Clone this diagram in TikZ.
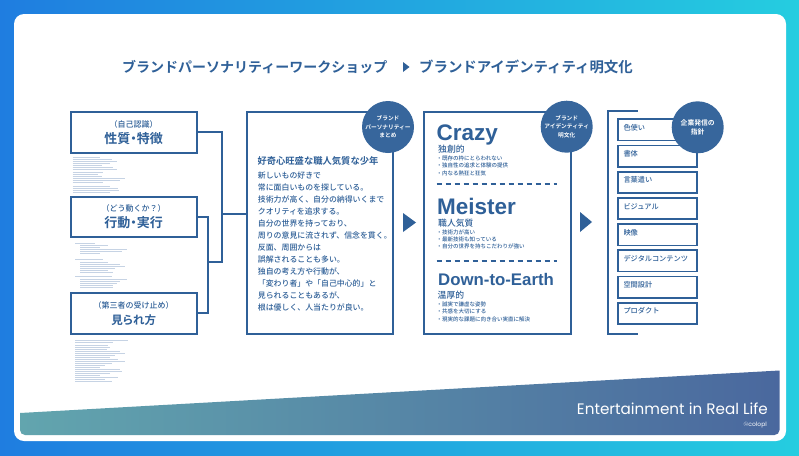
\documentclass[tikz,border=0pt]{standalone}
\usepackage{fontspec}
\setmainfont{Noto Sans CJK JP}[BoldFont={Noto Sans CJK JP Medium}]
\newfontfamily\tightfont{Noto Sans CJK JP}[RawFeature=+palt,BoldFont={Noto Sans CJK JP Bold}]
\newfontfamily\heavyfont{Noto Sans CJK JP Bold}
\newfontfamily\latinfont{Liberation Sans}
\newfontfamily\footerfont{Poppins}
\usetikzlibrary{chains}
\definecolor{brandblue}{HTML}{2F6098}
\definecolor{greekblue}{HTML}{C6D3E4}
\definecolor{skyleft}{HTML}{1F7DE0}
\definecolor{skyright}{HTML}{25CDE0}
\definecolor{bandleft}{HTML}{62A5AE}
\definecolor{bandright}{HTML}{4A689E}

\begin{document}
\begin{tikzpicture}[x=1pt,y=-1pt]
\useasboundingbox (0,0) rectangle (799,455);

\tikzstyle{framebox}=[draw=brandblue,line width=1.9pt,fill=white,anchor=north west,inner sep=0pt,outer sep=0pt]
\tikzstyle{factorbox}=[framebox,minimum width=126pt,minimum height=40.6pt,text=brandblue,align=center]
\tikzstyle{mediabox}=[draw=brandblue,line width=1.7pt,fill=white,minimum width=79.6pt,minimum height=21.3pt,
text width=68pt,align=left,inner ysep=0pt,inner xsep=5.8pt,outer sep=0pt,text height=11pt,text depth=10pt,text=brandblue,
font=\fontsize{7.2}{10}\selectfont\bfseries]
\tikzstyle{badge}=[circle,fill=brandblue!96!white,minimum size=52pt,inner sep=0pt,text=white,align=center,
font=\heavyfont\fontsize{5.7}{8.5}\selectfont]
\tikzstyle{link}=[draw=brandblue,line width=1.7pt]
\tikzstyle{greek}=[draw=greekblue,line width=.8pt]
\tikzstyle{heading}=[text=brandblue,anchor=base west,inner sep=0pt,font=\heavyfont\fontsize{14}{14}\selectfont]
\tikzstyle{bigword}=[text=brandblue,anchor=base west,inner sep=0pt]
\tikzstyle{subword}=[text=brandblue,anchor=west,inner sep=0pt,font=\fontsize{8.8}{12}\selectfont\bfseries]
\tikzstyle{points}=[text=brandblue,anchor=north west,inner sep=0pt,align=left,font=\fontsize{5.5}{7.4}\selectfont\bfseries]

%% Background and white sheet
\shade[left color=skyleft,right color=skyright] (0,0) rectangle (799,455);
\fill[white,rounded corners=10pt] (14,14) rectangle (786,441);
\shade[left color=bandleft,right color=bandright]
  (20,413) -- (779.5,370.5) [rounded corners=5pt] -- (779.5,435) -- (20,435) [sharp corners] -- cycle;

%% Title
\node [heading] (titleleft) at (122,72) {ブランドパーソナリティーワークショップ};
\node [heading,font=\heavyfont\fontsize{14.4}{14}\selectfont] (titleright) at (419,72) {ブランドアイデンティティ明文化};
\fill[brandblue] (403,62) -- (409.5,67) -- (403,72) -- cycle;

%% Factor boxes on the left
\node [factorbox] (selfbox) at (70.7,112) {{\fontsize{8}{10}\selectfont\bfseries （自己認識）}\\[4pt]{\tightfont\fontsize{13}{15}\selectfont\bfseries 性質・特徴}};
\node [factorbox] (actbox) at (70.7,196.7) {{\fontsize{8}{10}\selectfont\bfseries （どう動くか？）}\\[4pt]{\tightfont\fontsize{13}{15}\selectfont\bfseries 行動・実行}};
\node [factorbox] (viewbox) at (70.7,293) {{\fontsize{8}{10}\selectfont\bfseries （第三者の受け止め）}\\[4pt]{\tightfont\fontsize{11.5}{15}\selectfont\bfseries 見られ方}};

%% Illegible notes below each factor box
\foreach \rowy/\rowend in {157.3/100,159.3/111.7,161.3/117.3,163.3/110,165.3/101.7,167.3/112.7,169.3/117.3,
  172.7/103.3,174.7/98.3,176.7/101.7,178.7/125,180.7/120,182.7/103.3,
  186.7/110,188.7/118.3,190.7/119.3,192.7/110}
  \draw[greek] (72.7,\rowy) -- (\rowend,\rowy);
\foreach \rowy/\rowend in {243/95,259.7/103,276.7/111.7}
  \draw[greek] (75,\rowy) -- (\rowend,\rowy);
\foreach \rowy/\rowend in {245.3/108.3,247.3/100,249.3/126.7,251.3/121.7,253.3/100,
  262/108,264/120,266/125,268/115,270/108,272/113,
  279.3/126.7,281.3/120,283.3/116.7,285.3/113,287.3/113}
  \draw[greek] (80,\rowy) -- (\rowend,\rowy);
\foreach \rowy/\rowend in {340/128,342.7/113,345.7/108,347.7/110,349.7/107,351.7/120,353.7/125,355.7/115,
  357.7/110,359.7/118,361.7/125,363.7/112,365.7/105,367.7/100,369.7/120,371.7/122,373.7/110,375.7/100,
  377.7/118,379.7/105,381.7/112}
  \draw[greek] (75,\rowy) -- (\rowend,\rowy);

%% Summary frame
\node [framebox,minimum width=146.5pt,minimum height=222.3pt] (summarybox) at (246.7,111.7) {};
\node [badge] (summarybadge) at (388,127) {ブランド\\パーソナリティー\\まとめ};
\node [anchor=base west,inner sep=0pt,text=brandblue,font=\heavyfont\fontsize{9.3}{12}\selectfont] (summaryhead) at (257.3,164.5) {好奇心旺盛な職人気質な少年};
\node [anchor=north west,inner sep=0pt,text=brandblue,align=left,font=\fontsize{7.9}{12}\selectfont\bfseries] (summarytext) at (257.7,171.5)
{新しいもの好きで\\常に面白いものを探している。\\技術力が高く、自分の納得いくまで\\クオリティを追求する。\\自分の世界を持っており、\\周りの意見に流されず、信念を貫く。\\反面、周囲からは\\誤解されることも多い。\\独自の考え方や行動が、\\「変わり者」や「自己中心的」と\\見られることもあるが、\\根は優しく、人当たりが良い。};

%% Connectors into the summary frame
\coordinate (bendouter) at (222,261.7);
\coordinate (bendinner) at (207.7,261.7);
\coordinate (feedstart) at (222,214.3);
\draw[link] (selfbox.east) -| (bendouter) -- (bendinner);
\draw[link] (actbox.east) -| (bendinner) |- (viewbox.east);
\draw[link] (feedstart) -- (feedstart -| summarybox.west);

\fill[brandblue] (403,213) -- (416,222.5) -- (403,232) -- cycle;

%% Identity frame
\node [framebox,minimum width=146.7pt,minimum height=222.3pt] (identitybox) at (424,111.7) {};
\node [badge] (identitybadge) at (566.7,126.7) {ブランド\\アイデンティティ\\明文化};

\node [bigword,font=\latinfont\fontsize{22.5}{24}\selectfont\bfseries] (crazyword) at (436.5,140.7) {Crazy};
\node [subword] (crazysub) at (438,149) {独創的};
\node [points] (crazypoints) at (436.5,155.7) {・既存の枠にとらわれない\\・独自性の追求と体験の提供\\・内なる熱狂と狂気};

\node [bigword,font=\latinfont\fontsize{22.5}{24}\selectfont\bfseries] (meisterword) at (437,214) {Meister};
\node [subword] (meistersub) at (438,223) {職人気質};
\node [points] (meisterpoints) at (436.5,229.2) {・技術力が高い\\・最新技術も知っている\\・自分の世界を持ちこだわりが強い};

\node [bigword,font=\latinfont\fontsize{16.8}{18}\selectfont\bfseries] (earthword) at (438,285.7) {Down-to-Earth};
\node [subword] (earthsub) at (437.5,295) {温厚的};
\node [points] (earthpoints) at (436.5,301.7) {・誠実で謙虚な姿勢\\・共感を大切にする\\・現実的な課題に向き合い実直に解決};

\coordinate (rulestarta) at (436.7,183.7);
\coordinate (ruleenda) at (557,183.7);
\coordinate (rulestartb) at (436.7,261);
\coordinate (ruleendb) at (557,261);
\draw[link,line width=1.8pt,dash pattern=on 5.5pt off 3.5pt] (rulestarta) -- (ruleenda);
\draw[link,line width=1.8pt,dash pattern=on 5.5pt off 3.5pt] (rulestartb) -- (ruleendb);

\fill[brandblue] (580,212) -- (592,222) -- (580,232) -- cycle;

%% Bracket with the list of media
\coordinate (brackettop) at (637.7,110.7);
\coordinate (bracketbottom) at (637.7,334);
\draw[link,line width=1.8pt] (brackettop) -- (608,110.7) -- (608,334) -- (bracketbottom);

\begin{scope}[start chain=1 going below,node distance=4.9pt]
    \node [on chain=1,mediabox,anchor=north west] (colorbox) at (617.7,119.3) {色使い};
    \node [on chain=1,mediabox] (typebox) {書体};
    \node [on chain=1,mediabox] (wordbox) {言葉遣い};
    \node [on chain=1,mediabox] (visualbox) {ビジュアル};
    \node [on chain=1,mediabox] (moviebox) {映像};
    \node [on chain=1,mediabox] (digitalbox) {デジタルコンテンツ};
    \node [on chain=1,mediabox] (spacebox) {空間設計};
    \node [on chain=1,mediabox] (productbox) {プロダクト};
\end{scope}

\node [badge,font=\heavyfont\fontsize{6.8}{8.7}\selectfont] (policybadge) at (697.7,127.3) {企業発信の\\指針};

%% Footer text
\node [anchor=east,inner sep=0pt,text=white,font=\footerfont\fontsize{15.2}{16}\selectfont] (footerline) at (768,409) {Entertainment in Real Life};
\node [anchor=east,inner sep=0pt,text=white,font=\footerfont\fontsize{6}{7}\selectfont] (footermark) at (767,425) {©colopl};
\end{tikzpicture}
\end{document}
